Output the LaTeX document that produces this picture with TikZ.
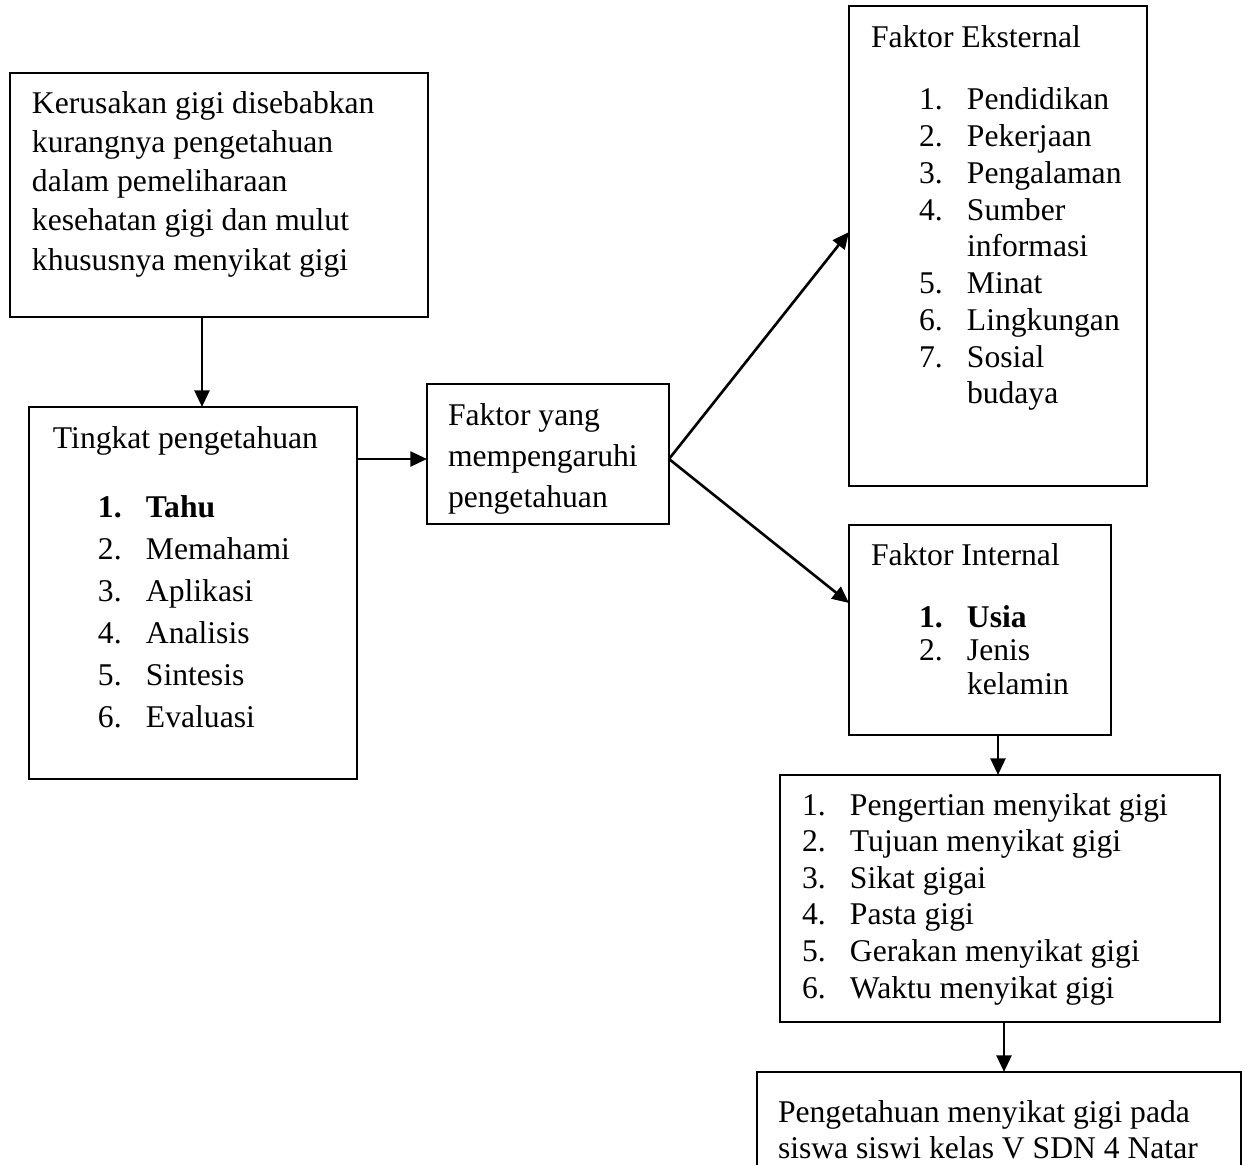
\documentclass[tikz,border=0pt]{standalone}
\usepackage{fontspec}
\setmainfont{Liberation Serif}
\usepackage{tikz}
\usetikzlibrary{arrows.meta,positioning}
\newlength{\px}
\setlength{\px}{0.02cm}
% width, height, left pad, first baseline, line skip, text
\newcommand{\boxtext}[6]{%
  \begin{minipage}[t][#2][t]{#1}\fontsize{18pt}{#5}\selectfont\raggedright
  \leftskip=#3\relax\rule{0pt}{#4}#6\end{minipage}}
\newcommand{\listno}[2]{\hspace*{#1}\makebox[48\px][l]{#2}}

\begin{document}
\begin{tikzpicture}[x=0.02cm, y=-0.02cm,
  box/.style={draw, line width=1.2pt, inner sep=0pt, outer sep=0pt, anchor=north west},
  arr/.style={-{Triangle[length=9.5pt,width=8.5pt]}, line width=1.5pt}
]
  \useasboundingbox (0,0) rectangle (1245,1164);
  \clip (0,0) rectangle (1245,1164);

  % Left column
  \node[box] (kerusakan) at (10,73) {\boxtext{418\px}{244\px}{22\px}{40\px}{39.25\px}{Kerusakan gigi disebabkan\\
    kurangnya pengetahuan\\ dalam pemeliharaan\\ kesehatan gigi dan mulut\\ khususnya menyikat gigi}};
  \node[box] (tingkat) at (29,407) {\boxtext{328\px}{372\px}{24\px}{41\px}{42\px}{Tingkat pengetahuan\\[27\px]
    \textbf{\listno{45\px}{1.}Tahu}\\ \listno{45\px}{2.}Memahami\\ \listno{45\px}{3.}Aplikasi\\
    \listno{45\px}{4.}Analisis\\ \listno{45\px}{5.}Sintesis\\ \listno{45\px}{6.}Evaluasi}};
  \node[box] (faktor) at (427,384) {\boxtext{242\px}{140\px}{21\px}{41\px}{41\px}{Faktor yang\\
    mempengaruhi\\ pengetahuan}};

  % Right column
  \node[box] (eksternal) at (849,6) {\boxtext{298\px}{480\px}{22\px}{41\px}{36.75\px}{Faktor Eksternal\\[26\px]
    \listno{48\px}{1.}Pendidikan\\ \listno{48\px}{2.}Pekerjaan\\ \listno{48\px}{3.}Pengalaman\\
    \listno{48\px}{4.}Sumber\\ \hspace*{96\px}informasi\\ \listno{48\px}{5.}Minat\\
    \listno{48\px}{6.}Lingkungan\\ \listno{48\px}{7.}Sosial\\ \hspace*{96\px}budaya}};
  \node[box] (internal) at (849,525) {\boxtext{262\px}{210\px}{22\px}{40\px}{33.5\px}{Faktor Internal\\[28.5\px]
    \textbf{\listno{48\px}{1.}Usia}\\ \listno{48\px}{2.}Jenis\\ \hspace*{96\px}kelamin}};
  \node[box] (materi) at (780,775) {\boxtext{440\px}{247\px}{22\px}{40\px}{36.6\px}{%
    \listno{0pt}{1.}Pengertian menyikat gigi\\ \listno{0pt}{2.}Tujuan menyikat gigi\\
    \listno{0pt}{3.}Sikat gigai\\ \listno{0pt}{4.}Pasta gigi\\
    \listno{0pt}{5.}Gerakan menyikat gigi\\ \listno{0pt}{6.}Waktu menyikat gigi}};
  \node[box] (hasil) at (757,1072) {\boxtext{484\px}{150\px}{21\px}{50\px}{36\px}{Pengetahuan menyikat gigi pada\\
    siswa siswi kelas V SDN 4 Natar}};

  % Arrows
  \coordinate (k1) at ([xshift=192\px]kerusakan.south west);
  \draw[arr] (k1) -- (k1 |- tingkat.north);
  \coordinate (f1) at ([yshift=-5\px]faktor.west);
  \draw[arr] (tingkat.east |- f1) -- (f1);
  \coordinate (f2) at ([yshift=-5\px]faktor.east);
  \draw[arr] (f2) -- ([yshift=14\px]eksternal.west);
  \draw[arr] (f2) -- ([yshift=27\px]internal.west);
  \coordinate (i1) at ([xshift=18\px]internal.south);
  \draw[arr] (i1) -- (i1 |- materi.north);
  \coordinate (m1) at ([xshift=4\px]materi.south);
  \draw[arr] (m1) -- (m1 |- hasil.north);
\end{tikzpicture}
\end{document}
